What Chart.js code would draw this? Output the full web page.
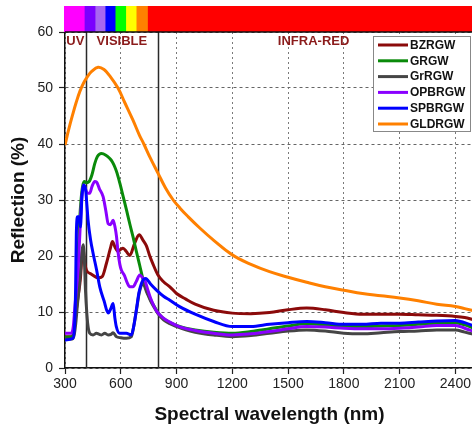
<!DOCTYPE html>
<html>
<head>
<meta charset="utf-8">
<script src="https://cdn.jsdelivr.net/npm/chart.js@4.4.1/dist/chart.umd.min.js"></script>
<style>
  html, body { margin: 0; padding: 0; background: #ffffff; overflow: hidden; }
  #wrap { width: 480px; height: 427px; }
</style>
</head>
<body>
<div id="wrap"><canvas id="c" width="480" height="427"></canvas></div>
<script>
// Reflection spectra of the glass samples (wavelength in nm, reflection in %)
const seriesNames = ['BZRGW', 'GRGW', 'GrRGW', 'OPBRGW', 'SPBRGW', 'GLDRGW'];
const seriesColors = ['#8b0a0a', '#0a8a0a', '#454545', '#8a00ff', '#0000ff', '#ff8000'];

const bzrgwNm = [300, 340, 352, 361, 370, 383, 390, 397, 405, 415, 440, 480, 500, 523, 545, 555, 570, 585, 600, 612, 630, 648, 675, 699, 720, 738, 756, 774, 800, 830, 864, 900, 950, 1000, 1100, 1200, 1300, 1400, 1500, 1600, 1700, 1800, 1900, 2000, 2100, 2200, 2300, 2400, 2450, 2500];
const bzrgwR  = [5.6, 5.6, 8, 10.4, 12.7, 16, 19.5, 21.5, 19, 17.5, 16.8, 16.1, 16.3, 18.7, 21.5, 22.6, 21.5, 20.8, 21.2, 21.4, 20.8, 20.1, 22.3, 23.8, 22.8, 21.8, 20, 18.5, 16.6, 15.4, 14.5, 13.3, 12.3, 11.4, 10.3, 9.8, 9.7, 9.9, 10.4, 10.7, 10.4, 9.9, 9.6, 9.6, 9.6, 9.5, 9.4, 9.2, 9.0, 8.6];

const grgwNm = [300, 340, 350, 358, 366, 375, 385, 395, 405, 415, 430, 445, 460, 475, 496, 520, 541, 555, 568, 580, 595, 613, 631, 648, 666, 684, 702, 720, 740, 760, 780, 800, 830, 864, 900, 950, 1000, 1100, 1200, 1300, 1400, 1500, 1600, 1700, 1800, 1900, 2000, 2100, 2200, 2300, 2400, 2450, 2500];
const grgwR  = [5.5, 5.6, 7, 11, 17, 24, 29.5, 32.5, 33.3, 33.1, 33.3, 34.5, 36.5, 37.8, 38.3, 38, 37.4, 36.8, 35.9, 34.8, 33, 30.6, 28.2, 25.8, 23.4, 20.8, 18.3, 15.8, 13.8, 12.2, 11, 9.9, 8.8, 8.1, 7.6, 7.1, 6.8, 6.4, 6.2, 6.5, 7.0, 7.5, 7.9, 7.7, 7.4, 7.4, 7.5, 7.6, 7.8, 8.0, 8.1, 7.7, 7.1];

const grrgwNm = [300, 340, 350, 358, 366, 375, 385, 392, 398, 404, 410, 418, 424, 433, 451, 469, 485, 496, 514, 532, 548, 559, 576, 600, 630, 657, 670, 685, 700, 720, 740, 760, 780, 800, 830, 864, 900, 950, 1000, 1100, 1200, 1300, 1400, 1500, 1600, 1700, 1800, 1900, 2000, 2100, 2200, 2300, 2400, 2450, 2500];
const grrgwR  = [5.2, 5.2, 6, 8, 11, 14, 18, 21, 22, 19.5, 14, 9.5, 7.4, 6.2, 5.9, 6.2, 6.0, 5.9, 6.2, 5.9, 6.0, 6.3, 5.6, 5.4, 5.3, 5.6, 7.5, 10.5, 13.5, 15, 13.5, 12, 10.8, 9.7, 8.6, 7.9, 7.4, 6.8, 6.4, 5.9, 5.6, 5.8, 6.2, 6.6, 6.8, 6.6, 6.2, 6.1, 6.3, 6.5, 6.6, 6.8, 6.8, 6.4, 6.0];

const opbrgwNm = [300, 334, 345, 352, 361, 370, 380, 388, 395, 400, 407, 415, 425, 433, 445, 460, 470, 485, 505, 520, 532, 545, 559, 570, 577, 585, 595, 603, 620, 635, 648, 666, 684, 702, 715, 729, 745, 760, 792, 830, 864, 914, 1000, 1100, 1200, 1300, 1400, 1500, 1600, 1700, 1800, 1900, 2000, 2100, 2200, 2300, 2400, 2450, 2500];
const opbrgwR  = [6.2, 6.2, 7.5, 10.4, 14, 17.5, 24, 29.4, 31.8, 32.7, 32.3, 31.5, 31.2, 31.2, 32.4, 33.3, 33.2, 32, 30.6, 28, 25.8, 25.6, 26.4, 25, 23.5, 20.8, 18.5, 17.5, 16.5, 15.2, 14.5, 14.5, 15.5, 16.6, 16.2, 15.7, 14, 12.5, 10.2, 8.9, 8.2, 7.4, 6.7, 6.2, 5.9, 6.1, 6.5, 7.0, 7.4, 7.3, 7.1, 7.0, 7.0, 7.1, 7.3, 7.6, 7.6, 7.1, 6.5];

const spbrgwNm = [300, 343, 352, 357, 361, 368, 375, 383, 391, 400, 411, 418, 424, 437, 451, 470, 487, 510, 532, 545, 559, 568, 576, 594, 630, 657, 670, 684, 698, 711, 722, 734, 760, 792, 830, 864, 914, 1000, 1100, 1200, 1300, 1400, 1500, 1600, 1700, 1800, 1900, 2000, 2100, 2200, 2300, 2400, 2450, 2500];
const spbrgwR  = [5.0, 5.3, 8, 14, 24, 27, 27, 25.2, 30.6, 32.7, 31.8, 29, 26.4, 23, 20.5, 17.5, 14.5, 12, 9.8, 10.5, 11.5, 9, 7.4, 6.2, 6.2, 5.9, 7.5, 10.4, 13.5, 15.1, 15.8, 16, 15, 13.9, 12.8, 12.1, 11, 9.6, 8.3, 7.4, 7.4, 7.8, 8.1, 8.3, 8.1, 7.8, 7.8, 8.0, 8.0, 8.2, 8.4, 8.5, 8.1, 7.5];

const gldrgwNm = [300, 320, 340, 360, 380, 400, 420, 445, 478, 510, 540, 585, 620, 665, 700, 724, 756, 800, 840, 882, 920, 960, 1025, 1100, 1200, 1300, 1400, 1500, 1600, 1700, 1800, 1900, 2000, 2100, 2200, 2300, 2400, 2450, 2500];
const gldrgwR  = [39.8, 42.6, 45.1, 47.4, 49.4, 50.9, 52.0, 53.0, 53.7, 53.3, 52.2, 50, 47.5, 44.3, 41.6, 40, 37.7, 34.8, 32.2, 30.0, 28.5, 27.1, 25.0, 22.8, 20.2, 18.5, 17.2, 16.2, 15.3, 14.5, 13.9, 13.3, 12.9, 12.5, 12.0, 11.4, 11.0, 10.6, 10.2];

// Axis ticks
const xTickValues = [300, 600, 900, 1200, 1500, 1800, 2100, 2400];
const yTickValues = [0, 10, 20, 30, 40, 50, 60];

// Spectrum colour strip along the top (band edges in nm)
const bandEdges  = [300, 411, 469, 523, 577, 634, 690, 751, 2500];
const bandColors = ['#ff00ff', '#7a00ff', '#a866f0', '#0000ff', '#00ff00', '#ffff00', '#ff8000', '#ff0000'];

// Region boundaries and names
const regionLines = [415, 800];
const regionNames = ['UV', 'VISIBLE', 'INFRA-RED'];
const regionStartNm = [307, 470, 1445];

const nmSets = [bzrgwNm, grgwNm, grrgwNm, opbrgwNm, spbrgwNm, gldrgwNm];
const rSets  = [bzrgwR, grgwR, grrgwR, opbrgwR, spbrgwR, gldrgwR];

const datasets = seriesNames.map((name, i) => {
  const smooth = name === 'GLDRGW';
  return {
    label: name,
    data: nmSets[i].map((x, k) => ({ x: x, y: rSets[i][k] })),
    borderColor: seriesColors[i],
    backgroundColor: seriesColors[i],
    borderWidth: 3,
    pointRadius: 0,
    fill: false,
    cubicInterpolationMode: smooth ? 'default' : 'monotone',
    tension: smooth ? 0.4 : 0,
    order: seriesNames.length - i
  };
});

const FONT = '"Liberation Sans", Arial, sans-serif';

const decorations = {
  id: 'decorations',
  beforeDatasetsDraw(chart) {
    const { ctx, chartArea, scales } = chart;
    ctx.save();
    ctx.strokeStyle = '#2a2a2a';
    ctx.lineWidth = 1.5;
    regionLines.forEach(nm => {
      const x = Math.round(scales.x.getPixelForValue(nm)) + 0.5;
      ctx.beginPath();
      ctx.moveTo(x, chartArea.top);
      ctx.lineTo(x, chartArea.bottom);
      ctx.stroke();
    });
    ctx.restore();
  },
  afterDraw(chart) {
    const { ctx, chartArea, scales } = chart;
    ctx.save();
    // colour strip
    for (let i = 0; i < bandColors.length; i++) {
      const x0 = scales.x.getPixelForValue(bandEdges[i]);
      const x1 = scales.x.getPixelForValue(bandEdges[i + 1]);
      ctx.fillStyle = bandColors[i];
      ctx.fillRect(x0 - 1, 6, x1 - x0 + 1, chartArea.top - 6);
    }
    // top frame line
    ctx.strokeStyle = '#111';
    ctx.lineWidth = 1.5;
    ctx.beginPath();
    ctx.moveTo(chartArea.left, chartArea.top);
    ctx.lineTo(chartArea.right, chartArea.top);
    ctx.stroke();
    // region names
    ctx.fillStyle = '#8b1c1c';
    ctx.font = 'bold 13px ' + FONT;
    ctx.textBaseline = 'middle';
    ctx.textAlign = 'left';
    regionNames.forEach((t, i) => {
      ctx.fillText(t, scales.x.getPixelForValue(regionStartNm[i]), chartArea.top + 9);
    });
    // legend box
    const bx = 373, by = 36.5, bw = 97, bh = 95;
    ctx.fillStyle = '#ffffff';
    ctx.fillRect(bx, by, bw, bh);
    ctx.strokeStyle = '#888';
    ctx.lineWidth = 1;
    ctx.strokeRect(bx + 0.5, by, bw, bh);
    ctx.font = 'bold 12px ' + FONT;
    ctx.textBaseline = 'middle';
    chart.data.datasets.forEach((ds, i) => {
      const y = 45 + i * 15.8;
      ctx.strokeStyle = ds.borderColor;
      ctx.lineWidth = 3;
      ctx.beginPath();
      ctx.moveTo(378, y);
      ctx.lineTo(408, y);
      ctx.stroke();
      ctx.fillStyle = '#111';
      ctx.fillText(ds.label, 410, y + 0.5);
    });
    ctx.restore();
  }
};

new Chart(document.getElementById('c'), {
  type: 'line',
  data: { datasets: datasets },
  plugins: [decorations],
  options: {
    responsive: false,
    devicePixelRatio: 1,
    animation: false,
    layout: { padding: { top: 32, right: 6, left: 0, bottom: 0 } },
    plugins: { legend: { display: false }, tooltip: { enabled: false } },
    scales: {
      x: {
        type: 'linear',
        min: 300,
        max: 2500,
        afterBuildTicks: s => { s.ticks = xTickValues.map(v => ({ value: v })); },
        afterFit: s => { s.height = 59; },
        ticks: {
          autoSkip: false, maxRotation: 0, padding: 2,
          color: '#222', font: { family: FONT, size: 14 },
          callback: v => String(v)
        },
        grid: { color: '#7a7a7a', lineWidth: 1, tickLength: 6, tickColor: '#222', tickWidth: 1.2, tickBorderDash: [] },
        border: { display: true, color: '#111', width: 1.5, dash: [2, 3] },
        title: {
          display: true, text: 'Spectral wavelength (nm)', color: '#111',
          font: { family: FONT, size: 19, weight: 'bold' }, padding: { top: 0, bottom: 1 }
        }
      },
      y: {
        type: 'linear',
        min: 0,
        max: 60,
        afterBuildTicks: s => { s.ticks = yTickValues.map(v => ({ value: v })); },
        afterFit: s => { s.width = 65; },
        ticks: {
          padding: 6, color: '#222', font: { family: FONT, size: 14 },
          callback: v => String(v)
        },
        grid: { color: '#666', lineWidth: 1, tickLength: 6, tickColor: '#222', tickWidth: 1.2, tickBorderDash: [] },
        border: { display: true, color: '#111', width: 1.5, dash: [3, 3] },
        title: {
          display: true, text: 'Reflection (%)', color: '#111',
          font: { family: FONT, size: 19, weight: 'bold' }, padding: { top: 7, bottom: 0 }
        }
      }
    }
  }
});
</script>
</body>
</html>
